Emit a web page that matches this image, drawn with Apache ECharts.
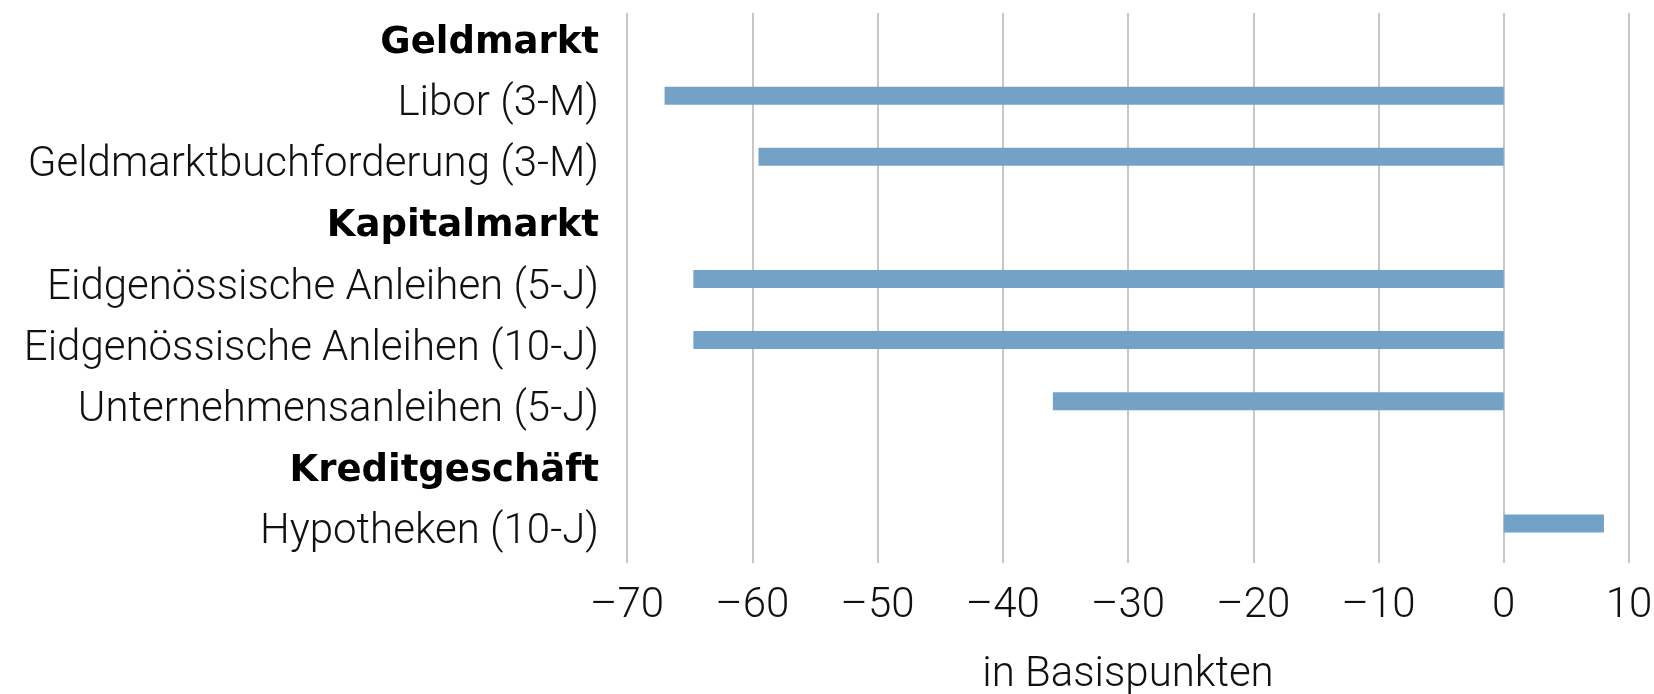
<!DOCTYPE html>
<html>
<head>
<meta charset="utf-8">
<script src="https://cdn.jsdelivr.net/npm/echarts@6/dist/echarts.min.js"></script>
<style>
  html, body { margin: 0; padding: 0; background: #fff; }
  #chart { width: 1654px; height: 694px; }
</style>
</head>
<body>
<div id="chart"></div>
<script>
// Kategorien (von oben nach unten)
var categories = [
    'Geldmarkt',
    'Libor (3-M)',
    'Geldmarktbuchforderung (3-M)',
    'Kapitalmarkt',
    'Eidgenössische Anleihen (5-J)',
    'Eidgenössische Anleihen (10-J)',
    'Unternehmensanleihen (5-J)',
    'Kreditgeschäft',
    'Hypotheken (10-J)'
];
// Zwischentitel fett
var isHeader = [true, false, false, true, false, false, false, true, false];
// Veränderung in Basispunkten
var values = [null, -67, -59.5, null, -64.7, -64.7, -36, null, 8];
// Achse
var xMin = -70, xMax = 10, xStep = 10;
var axisTitle = 'in Basispunkten';

var myChart = echarts.init(document.getElementById('chart'));

var lightFont = 'Roboto, "Liberation Sans", sans-serif';
var boldFont = '"DejaVu Sans", "Liberation Sans", sans-serif';

var option = {
    backgroundColor: '#ffffff',
    animation: false,
    grid: {
        left: 627,
        right: 25,
        top: 13,
        bottom: 131,
        outerBoundsMode: 'none'
    },
    xAxis: {
        type: 'value',
        min: xMin,
        max: xMax,
        interval: xStep,
        axisLine: { show: false },
        axisTick: { show: false },
        splitLine: { show: true, lineStyle: { color: '#b4b4b4', width: 1.5 } },
        axisLabel: {
            margin: 22,
            color: '#111',
            fontSize: 42,
            fontFamily: lightFont,
            fontWeight: 300,
            formatter: function (v) {
                return v < 0 ? '\u2013' + Math.abs(v) : String(v);
            }
        },
        name: axisTitle,
        nameLocation: 'middle',
        nameGap: 91,
        nameTextStyle: {
            color: '#111',
            fontSize: 42,
            fontFamily: lightFont,
            fontWeight: 300
        }
    },
    yAxis: {
        type: 'category',
        data: categories,
        inverse: true,
        axisLine: { show: false },
        axisTick: { show: false },
        splitLine: { show: false },
        axisLabel: {
            margin: 28,
            formatter: function (v, i) {
                return isHeader[i] ? '{h|' + v + '}' : '{n|' + v + '}';
            },
            rich: {
                h: { fontSize: 37, fontWeight: 'bold', color: '#000', fontFamily: boldFont },
                n: { fontSize: 42, fontWeight: 300, color: '#111', fontFamily: lightFont }
            }
        }
    },
    series: [
        {
            name: 'Veränderung',
            type: 'bar',
            data: values,
            barWidth: 18,
            barGap: '0%',
            itemStyle: { color: '#74a2c7' }
        },
        {
            // leere Reihe, hält den Platz wie im Original
            name: 'leer',
            type: 'bar',
            data: [],
            barWidth: 18,
            barGap: '0%'
        }
    ]
};

myChart.setOption(option);
</script>
</body>
</html>
